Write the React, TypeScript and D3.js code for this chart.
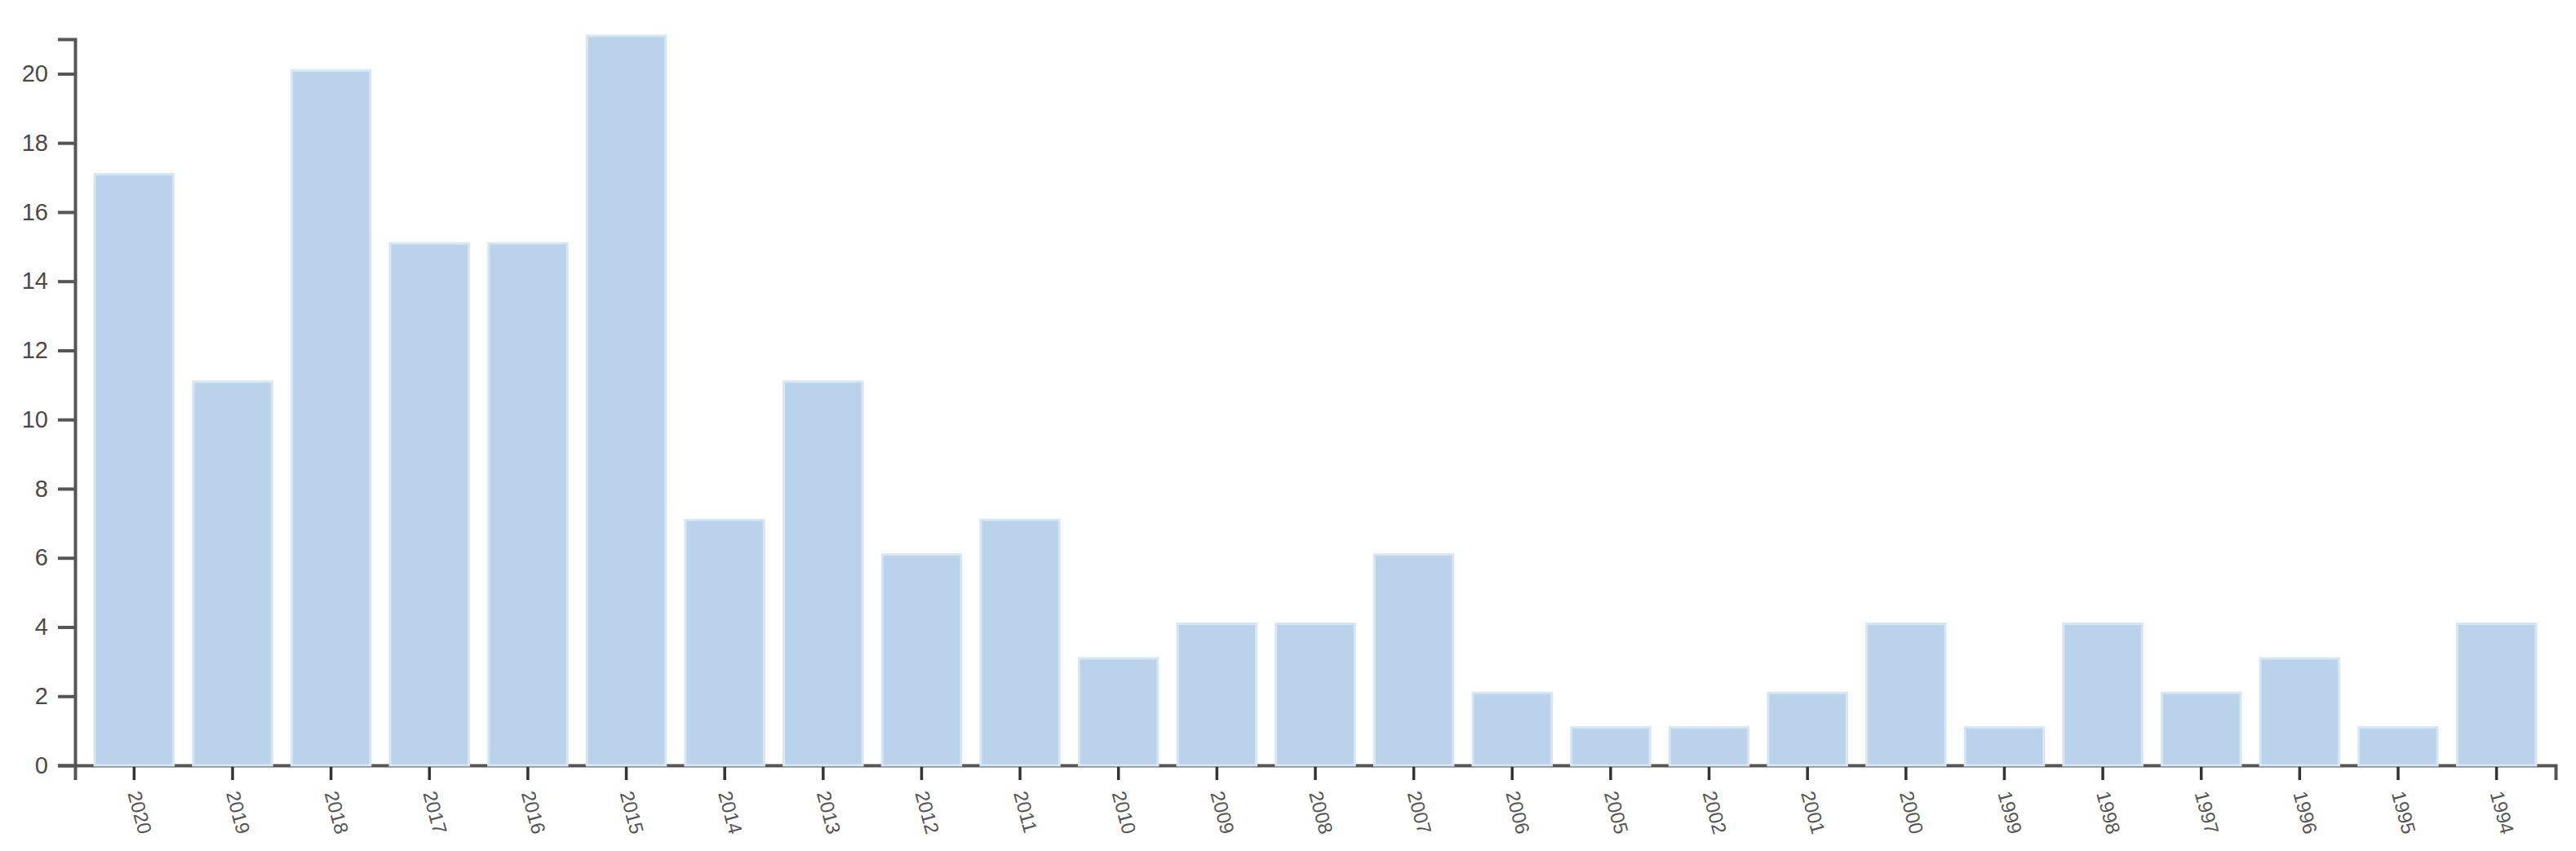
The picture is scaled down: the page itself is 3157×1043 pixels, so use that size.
import { useEffect, useMemo, useRef } from "react";
import * as d3 from "d3";

const WIDTH = 3157;
const HEIGHT = 1043;
const MARGIN = { top: 48, right: 25, bottom: 105, left: 92 };

const years = [
  "2020", "2019", "2018", "2017", "2016", "2015", "2014", "2013", "2012",
  "2011", "2010", "2009", "2008", "2007", "2006", "2005", "2002", "2001",
  "2000", "1999", "1998", "1997", "1996", "1995", "1994",
];
const counts = [
  17, 11, 20, 15, 15, 21, 7, 11, 6, 7, 3, 4, 4, 6, 2, 1, 1, 2, 4, 1, 4, 2, 3, 1, 4,
];
const yTicks = [0, 2, 4, 6, 8, 10, 12, 14, 16, 18, 20];

const BAR_COLOR = "#bad3ea";
const BAR_EDGE = "#d6e6f4";
const AXIS_COLOR = "#555555";
// the bars in the source sit a few px above their tick value
const BAR_LIFT = 4;

export default function App() {
  const axesRef = useRef<SVGGElement>(null);
  const boundsWidth = WIDTH - MARGIN.left - MARGIN.right;
  const boundsHeight = HEIGHT - MARGIN.top - MARGIN.bottom;

  const xScale = useMemo(
    () => d3.scaleBand().domain(years).range([0, boundsWidth]).padding(0.2),
    [boundsWidth]
  );
  const yScale = useMemo(
    () => d3.scaleLinear().domain([0, d3.max(counts) as number]).range([boundsHeight, 0]),
    [boundsHeight]
  );

  useEffect(() => {
    const g = d3.select(axesRef.current);
    g.selectAll("*").remove();

    const xAxis = g
      .append("g")
      .attr("transform", `translate(0,${boundsHeight})`)
      .style("color", AXIS_COLOR)
      .call(d3.axisBottom(xScale).tickSize(18).tickSizeOuter(18).tickPadding(0));
    xAxis.select(".domain").attr("stroke-width", 4);
    xAxis.selectAll(".tick line").attr("stroke", "#333").attr("stroke-width", 3.5);
    xAxis
      .selectAll(".tick text")
      .attr("y", 0)
      .attr("x", 0)
      .attr("dy", "0.35em")
      .attr("transform", "translate(0,32) rotate(75)")
      .style("text-anchor", "start")
      .style("font-family", "'Liberation Sans', Arial, sans-serif")
      .style("font-size", "24px")
      .attr("fill", "#555");

    const yAxis = g
      .append("g")
      .style("color", AXIS_COLOR)
      .call(d3.axisLeft(yScale).tickValues(yTicks).tickSize(21).tickSizeOuter(21).tickPadding(12));
    yAxis.select(".domain").attr("stroke-width", 4);
    yAxis.selectAll(".tick line").attr("stroke-width", 4);
    yAxis
      .selectAll(".tick text")
      .style("font-family", "'Liberation Sans', Arial, sans-serif")
      .style("font-size", "29px")
      .attr("fill", "#4a4a4a");
  }, [xScale, yScale, boundsHeight]);

  const bars = years.map((year, i) => {
    const v = counts[i];
    const y = yScale(v) - BAR_LIFT;
    return (
      <rect
        key={year}
        x={xScale(year)}
        y={y}
        width={xScale.bandwidth()}
        height={yScale(0) - y}
        fill={BAR_COLOR}
        stroke={BAR_EDGE}
        strokeWidth={3}
      />
    );
  });

  return (
    <svg
      width={WIDTH}
      height={HEIGHT}
      style={{ position: "absolute", left: 0, top: 0, background: "#fff" }}
    >
      <g transform={`translate(${MARGIN.left},${MARGIN.top})`} ref={axesRef} />
      <g transform={`translate(${MARGIN.left},${MARGIN.top})`}>{bars}</g>
    </svg>
  );
}
